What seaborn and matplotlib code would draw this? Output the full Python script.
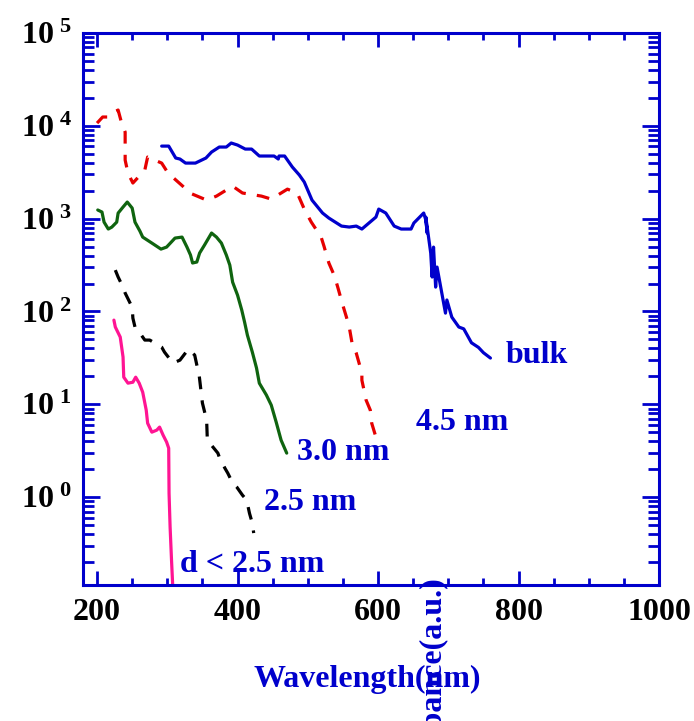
import numpy as np
import pandas as pd
import matplotlib
matplotlib.use('Agg')
import matplotlib.pyplot as plt
import seaborn as sns
from matplotlib.ticker import MultipleLocator, LogLocator, FuncFormatter, NullFormatter

# ---------------- data ----------------
bulk_nm = [292, 302, 312, 318, 326, 340, 355, 363, 374, 384, 391, 400, 411, 420, 431, 452, 458, 459, 467,
           478, 488, 495, 506, 521, 530, 548, 559, 569, 577, 597, 601, 611, 623, 633, 647, 651, 665, 668,
           670, 668, 675, 677, 679, 682, 684, 696, 698, 705, 715, 722, 733, 743, 750, 760]
bulk_abs = [6050, 6050, 4500, 4390, 3970, 3970, 4500, 5220, 5910, 5910, 6530, 6210, 5620, 5620, 4730, 4730,
            4390, 4730, 4730, 3600, 2950, 2480, 1585, 1150, 1015, 832, 812, 832, 773, 1040, 1268, 1150, 832,
            773, 773, 898, 1150, 967, 700, 1040, 426, 235, 494, 183, 301, 96, 133, 87, 68, 65, 46, 41, 36,
            31.5]

nm45_nm = [200, 208, 215, 221, 230, 235, 240, 240, 240, 244, 251, 268, 272, 292, 301, 322, 332, 356, 370,
           393, 407, 434, 448, 471, 485, 495, 505, 519, 523, 530, 538, 543, 549, 555, 559, 563, 569, 577,
           577, 583, 589, 591, 597]
nm45_abs = [10700, 12450, 12450, 13740, 14800, 10700, 8570, 5910, 4280, 3100, 2420, 3340, 4610, 3970,
            3100, 2240, 1890, 1585, 1750, 2240, 1890, 1750, 1625, 2080, 1890, 1268, 918, 633, 507, 333,
            241, 179, 123, 87, 68, 45.7, 35.6, 21.7, 18.2, 11.1, 8.65, 6.26, 4.43]

nm30_nm = [201, 207, 210, 216, 221, 228, 230, 237, 243, 250, 254, 261, 265, 278, 291, 299, 311, 321, 328,
           333, 336, 342, 346, 353, 363, 370, 377, 384, 389, 393, 400, 406, 410, 414, 421, 427, 431, 441,
           448, 455, 462, 470]
nm30_abs = [1240, 1178, 918, 773, 811, 918, 1148, 1334, 1510, 1300, 918, 735, 633, 546, 470, 494, 618,
            633, 494, 406, 333, 341, 426, 520, 700, 633, 546, 406, 316, 207, 150, 103.5, 76.9, 55.7, 36.6,
            24.6, 16.9, 12.6, 9.8, 6.43, 4.11, 2.98]

nm25_nm = [226, 230, 237, 240, 250, 251, 254, 258, 268, 275, 292, 296, 308, 318, 330, 339, 343, 345, 350,
           356, 357, 372, 374, 382, 386, 393, 399, 407, 413, 417, 421, 423]
nm25_abs = [279, 235, 183, 158, 111, 84.8, 68, 63, 49.2, 49.2, 41.3, 36.5, 27.8, 29.9, 39.3, 33.9, 24.5,
            21.7, 10.3, 6.76, 4.11, 2.98, 2.7, 2.05, 1.82, 1.42, 1.28, 1.05, 0.93, 0.67, 0.525, 0.41]

small_nm = [224, 226, 233, 237, 238, 244, 251, 255, 260, 265, 270, 272, 278, 285, 289, 294, 299, 302,
            302.5, 304, 306, 308]
small_abs = [80.7, 68, 53, 32.3, 19.6, 16.9, 17.3, 19.6, 16.9, 13.5, 8.65, 6.26, 5.01, 5.27, 5.68, 4.66,
             3.92, 3.37, 1.1, 0.475, 0.21, 0.1]

labels = ['bulk', '4.5 nm', '3.0 nm', '2.5 nm', 'd < 2.5 nm']
label_x = [781, 654, 485, 438, 318]
label_y = [27.8, 5.27, 2.5, 0.724, 0.156]

x_ticks = [200, 400, 600, 800, 1000]

# ---------------- style ----------------
BLUE = '#0000CC'
sns.set_style('ticks')
plt.rcParams['font.family'] = ['Liberation Serif', 'DejaVu Serif']
plt.rcParams['font.weight'] = 'bold'
plt.rcParams['mathtext.fontset'] = 'custom'
plt.rcParams['mathtext.rm'] = 'Liberation Serif:bold'
plt.rcParams['mathtext.bf'] = 'Liberation Serif:bold'
plt.rcParams['mathtext.it'] = 'Liberation Serif:bold'

fig = plt.figure(figsize=(6.94, 7.21), dpi=100)
ax = fig.add_axes([0.1196, 0.1886, 0.83, 0.7656])
ax.set_yscale('log')

series = [
    (bulk_nm, bulk_abs, BLUE, False),
    (nm45_nm, nm45_abs, '#E60000', True),
    (nm30_nm, nm30_abs, '#0F640F', False),
    (nm25_nm, nm25_abs, 'black', True),
    (small_nm, small_abs, '#FF1493', False),
]
for xs, ys, col, dashed in series:
    df = pd.DataFrame({'nm': xs, 'abs': ys})
    sns.lineplot(data=df, x='nm', y='abs', ax=ax, color=col, lw=2.3, sort=False, estimator=None)
    if dashed:
        ax.lines[-1].set_linestyle((0, (4, 3.5)))
    ax.lines[-1].set_solid_joinstyle('round')

ax.set_xlim(180, 1000)
ax.set_ylim(0.113, 1e5)
ax.set_xlabel('')
ax.set_ylabel('')

ax.xaxis.set_major_locator(plt.FixedLocator(x_ticks))
ax.xaxis.set_minor_locator(MultipleLocator(50))
ax.yaxis.set_major_locator(LogLocator(base=10, numticks=20))
ax.yaxis.set_minor_locator(LogLocator(base=10, subs=np.arange(2, 10), numticks=20))
ax.yaxis.set_minor_formatter(NullFormatter())
ax.yaxis.set_major_formatter(FuncFormatter(lambda v, p: r'$10^{\ %d}$' % round(np.log10(v))))

ax.tick_params(axis='both', which='both', direction='in', top=True, right=True,
               color=BLUE, width=2.0, labelcolor='black', labelsize=23)
ax.tick_params(axis='x', which='major', length=10, pad=9)
ax.tick_params(axis='x', which='minor', length=5)
ax.tick_params(axis='y', which='major', length=12, pad=8)
ax.tick_params(axis='y', which='minor', length=8)
for s in ax.spines.values():
    s.set_color(BLUE)
    s.set_linewidth(2.2)

for t, x, y in zip(labels, label_x, label_y):
    ax.text(x, y, t, color=BLUE, fontsize=23, fontweight='bold', ha='left', va='baseline')

fig.text(367 / 694, 1 - 687 / 721, 'Wavelength(nm)', color=BLUE, fontsize=23, fontweight='bold',
         ha='center', va='baseline')
fig.text(433 / 694, 1 - 577 / 721, 'Absorbance(a.u.)', color=BLUE, fontsize=23, fontweight='bold',
         rotation=90, ha='center', va='top')

fig.savefig('out.png', dpi=100)
